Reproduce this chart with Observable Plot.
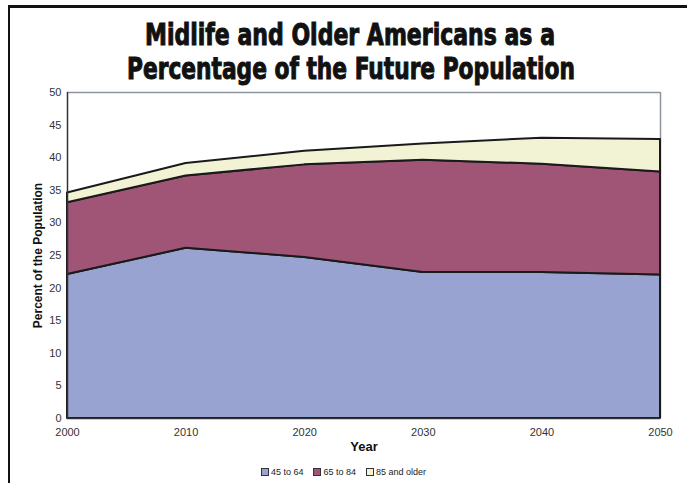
<!DOCTYPE html>
<html>
<head>
<meta charset="utf-8">
<script src="https://cdn.jsdelivr.net/npm/d3@7"></script>
<script src="https://cdn.jsdelivr.net/npm/@observablehq/plot@0.6"></script>
<style>
  body { margin: 0; background: #fff; }
  #wrap { position: relative; width: 687px; height: 483px; background: #fff; overflow: hidden; font-family: "Liberation Sans", Arial, sans-serif; }
  #topline { position: absolute; left: 8px; top: 5px; width: 679px; height: 2.5px; background: #111; }
  #leftline { position: absolute; left: 8px; top: 5px; width: 2px; height: 478px; background: #111; }
  #title { position: absolute; left: 0; top: 0; }
  #chart { position: absolute; left: 0; top: 80px; }
  #legend { position: absolute; left: 0; top: 467px; width: 687px; display: flex; justify-content: center; gap: 10px; font-size: 9px; color: #222; }
  #legend .item { display: flex; align-items: center; gap: 2px; }
  #legend .sw { width: 6px; height: 6px; border: 1px solid #333; }
  #chart svg [aria-label="y-axis label"] text { font-weight: bold; font-size: 12px; fill: #111; }
  #chart svg [aria-label="x-axis label"] text { font-weight: bold; font-size: 13px; fill: #111; }
</style>
</head>
<body>
<div id="wrap">
  <svg id="title" width="687" height="92">
    <text x="350" y="45" text-anchor="middle" font-family="'DejaVu Sans Condensed', 'Liberation Sans Narrow', 'DejaVu Sans', sans-serif" font-weight="bold" font-size="30" textLength="410" lengthAdjust="spacingAndGlyphs" fill="#111" stroke="#111" stroke-width="1">Midlife and Older Americans as a</text>
    <text x="351" y="79" text-anchor="middle" font-family="'DejaVu Sans Condensed', 'Liberation Sans Narrow', 'DejaVu Sans', sans-serif" font-weight="bold" font-size="30" textLength="448" lengthAdjust="spacingAndGlyphs" fill="#111" stroke="#111" stroke-width="1">Percentage of the Future Population</text>
  </svg>
  <div id="chart"></div>
  <div id="legend"></div>
  <div id="topline"></div>
  <div id="leftline"></div>
</div>
<script>
const years = [2000, 2010, 2020, 2030, 2040, 2050];
const groups = ["45 to 64", "65 to 84", "85 and older"];
const colors = ["#99A3D2", "#A05577", "#F2F2D4"];
const age45to64 = [22.1, 26.1, 24.7, 22.4, 22.4, 22.0];
const age65to84 = [11.0, 11.1, 14.2, 17.2, 16.6, 15.8];
const age85plus = [1.5, 1.9, 2.1, 2.5, 4.0, 5.0];
const yTicks = [0, 5, 10, 15, 20, 25, 30, 35, 40, 45, 50];
const xTicks = [2000, 2010, 2020, 2030, 2040, 2050];

const series = [age45to64, age65to84, age85plus];
const data = [];
groups.forEach((g, gi) => {
  years.forEach((yr, i) => data.push({ year: yr, group: g, value: series[gi][i] }));
});

const chart = Plot.plot({
  width: 687,
  height: 375,
  marginTop: 12,
  marginBottom: 37,
  marginLeft: 67,
  marginRight: 27,
  style: { fontFamily: "'Liberation Sans', Arial, sans-serif", fontSize: "11px", color: "#333", background: "transparent" },
  x: { domain: [2000, 2050] },
  y: { domain: [0, 50] },
  color: { domain: groups, range: colors },
  marks: [
    Plot.ruleY([50], { stroke: "#8C959D", strokeWidth: 1.5 }),
    Plot.ruleX([2050], { stroke: "#8C959D", strokeWidth: 1.5 }),
    Plot.areaY(data, { x: "year", y: "value", z: "group", fill: "group", stroke: "#1a1a1a", strokeWidth: 2, fillOpacity: 1 }),
    Plot.ruleX([2000], { stroke: "#333", strokeWidth: 1.5 }),
    Plot.ruleY([0], { stroke: "#333", strokeWidth: 1.5 }),
    Plot.axisY({ ticks: yTicks, tickSize: 0, tickPadding: 6, label: "Percent of the Population", labelAnchor: "center", labelOffset: 34, labelArrow: "none" }),
    Plot.axisX({ ticks: xTicks, tickFormat: d => String(d), tickSize: 0, tickPadding: 10, label: "Year", labelAnchor: "center", labelOffset: 32, labelArrow: "none" })
  ]
});
document.getElementById("chart").appendChild(chart);

const legend = document.getElementById("legend");
groups.forEach((g, i) => {
  const item = document.createElement("div");
  item.className = "item";
  const sw = document.createElement("span");
  sw.className = "sw";
  sw.style.background = colors[i];
  const t = document.createElement("span");
  t.textContent = g;
  item.appendChild(sw);
  item.appendChild(t);
  legend.appendChild(item);
});
</script>
</body>
</html>
